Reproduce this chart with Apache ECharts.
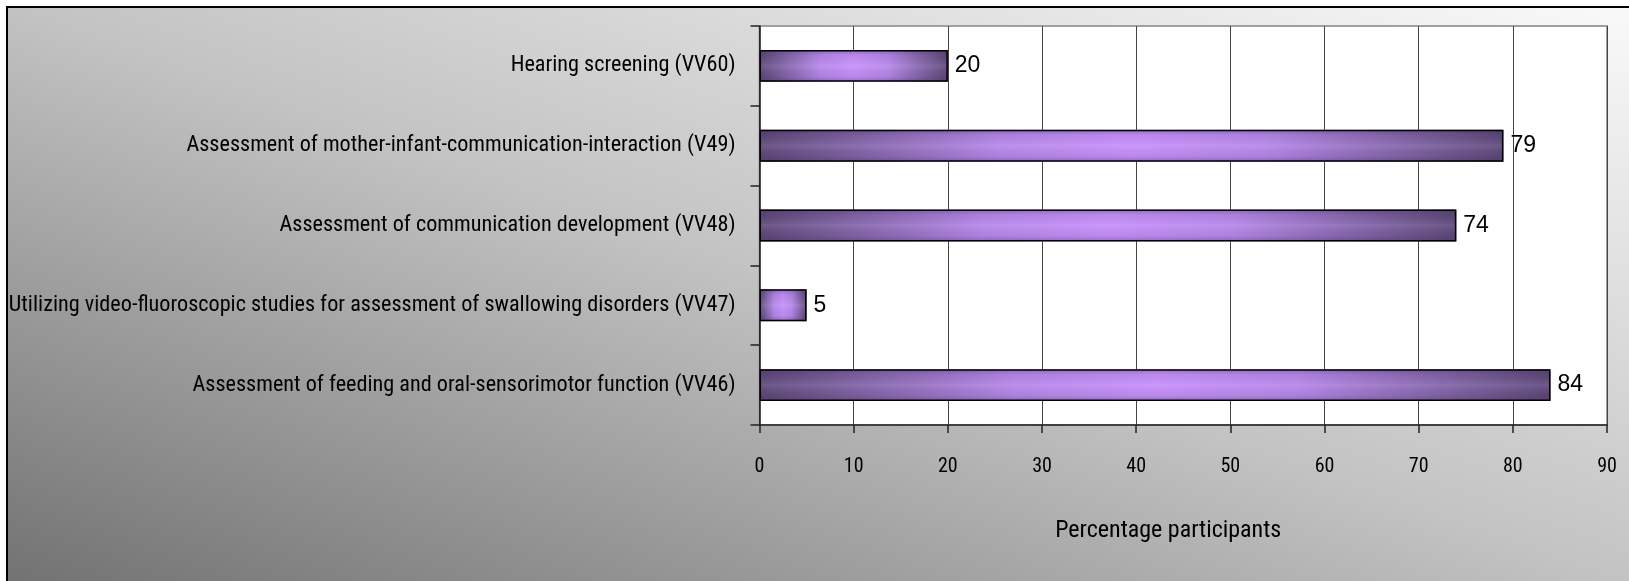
<!DOCTYPE html>
<html>
<head>
<meta charset="utf-8">
<style>
  html, body { margin: 0; padding: 0; background: #ffffff; }
  #chart { width: 1629px; height: 581px; }
</style>
<script src="https://cdn.jsdelivr.net/npm/echarts@6/dist/echarts.min.js"></script>
</head>
<body>
<div id="chart"></div>
<script>
const categories = [
  "Hearing screening (VV60)",
  "Assessment of mother-infant-communication-interaction (V49)",
  "Assessment of communication development (VV48)",
  "Utilizing video-fluoroscopic studies for assessment of swallowing disorders (VV47)",
  "Assessment of feeding and oral-sensorimotor function (VV46)"
];
const percentages = [20, 79, 74, 5, 84];
const xAxisName = "Percentage participants";

const narrow = "'Roboto Condensed', 'Liberation Sans Narrow', sans-serif";

const chart = echarts.init(document.getElementById('chart'), null, { renderer: 'canvas' });

const option = {
  animation: false,
  graphic: [{
    type: 'rect',
    z: -100,
    silent: true,
    shape: { x: 7, y: 7, width: 1700, height: 700 },
    style: {
      fill: new echarts.graphic.LinearGradient(631, 805, 998, -224, [
        { offset: 0, color: '#727272' },
        { offset: 0.5, color: '#c3c3c3' },
        { offset: 1, color: '#fafafa' }
      ], true),
      stroke: '#000000',
      lineWidth: 2
    }
  }],
  grid: {
    left: 759.5,
    right: 22,
    top: 26,
    bottom: 156,
    containLabel: false,
    outerBoundsMode: 'none',
    show: true,
    backgroundColor: '#ffffff',
    borderColor: '#a0a0a0',
    borderWidth: 2
  },
  xAxis: {
    type: 'value',
    min: 0,
    max: 90,
    interval: 10,
    name: xAxisName,
    nameLocation: 'middle',
    nameGap: 94,
    nameTextStyle: { fontFamily: narrow, fontSize: 24, color: '#000', padding: [0, 30, 0, 0] },
    axisLine: { show: true, lineStyle: { color: '#222', width: 1.5 } },
    axisTick: { show: true, length: 8, lineStyle: { color: '#222', width: 1.5 } },
    axisLabel: { margin: 32, fontFamily: narrow, fontSize: 20, color: '#000' },
    splitLine: { show: true, lineStyle: { color: '#444', width: 1 } }
  },
  yAxis: {
    type: 'category',
    data: categories,
    inverse: true,
    axisLine: { show: true, lineStyle: { color: '#222', width: 1.5 } },
    axisTick: { show: true, length: 9, lineStyle: { color: '#222', width: 1.5 } },
    axisLabel: { margin: 24, fontFamily: narrow, fontSize: 22.2, color: '#000' },
    splitLine: { show: false }
  },
  series: [
    {
      type: 'bar',
      data: percentages,
      barWidth: '40%',
      z: 2,
      itemStyle: {
        color: new echarts.graphic.LinearGradient(0, 0, 1, 0, [
          { offset: 0, color: '#5a4674' },
          { offset: 0.07, color: '#6d568c' },
          { offset: 0.32, color: '#b688ea' },
          { offset: 0.5, color: '#c891fb' },
          { offset: 0.68, color: '#b688ea' },
          { offset: 0.93, color: '#6d568c' },
          { offset: 1, color: '#5a4674' }
        ])
      },
      label: {
        show: true,
        position: 'right',
        distance: 7,
        fontFamily: "'Liberation Sans', Arial, sans-serif",
        fontSize: 23,
        color: '#000'
      }
    },
    {
      type: 'bar',
      data: percentages,
      barWidth: '40%',
      barGap: '-100%',
      z: 3,
      silent: true,
      itemStyle: {
        color: new echarts.graphic.LinearGradient(0, 0, 0, 1, [
          { offset: 0, color: 'rgba(70,50,95,0.38)' },
          { offset: 0.18, color: 'rgba(70,50,95,0.08)' },
          { offset: 0.5, color: 'rgba(225,190,255,0.15)' },
          { offset: 0.82, color: 'rgba(70,50,95,0.08)' },
          { offset: 1, color: 'rgba(70,50,95,0.38)' }
        ]),
        borderColor: '#000',
        borderWidth: 1.5
      },
      label: { show: false }
    }
  ]
};

chart.setOption(option);
</script>
</body>
</html>
